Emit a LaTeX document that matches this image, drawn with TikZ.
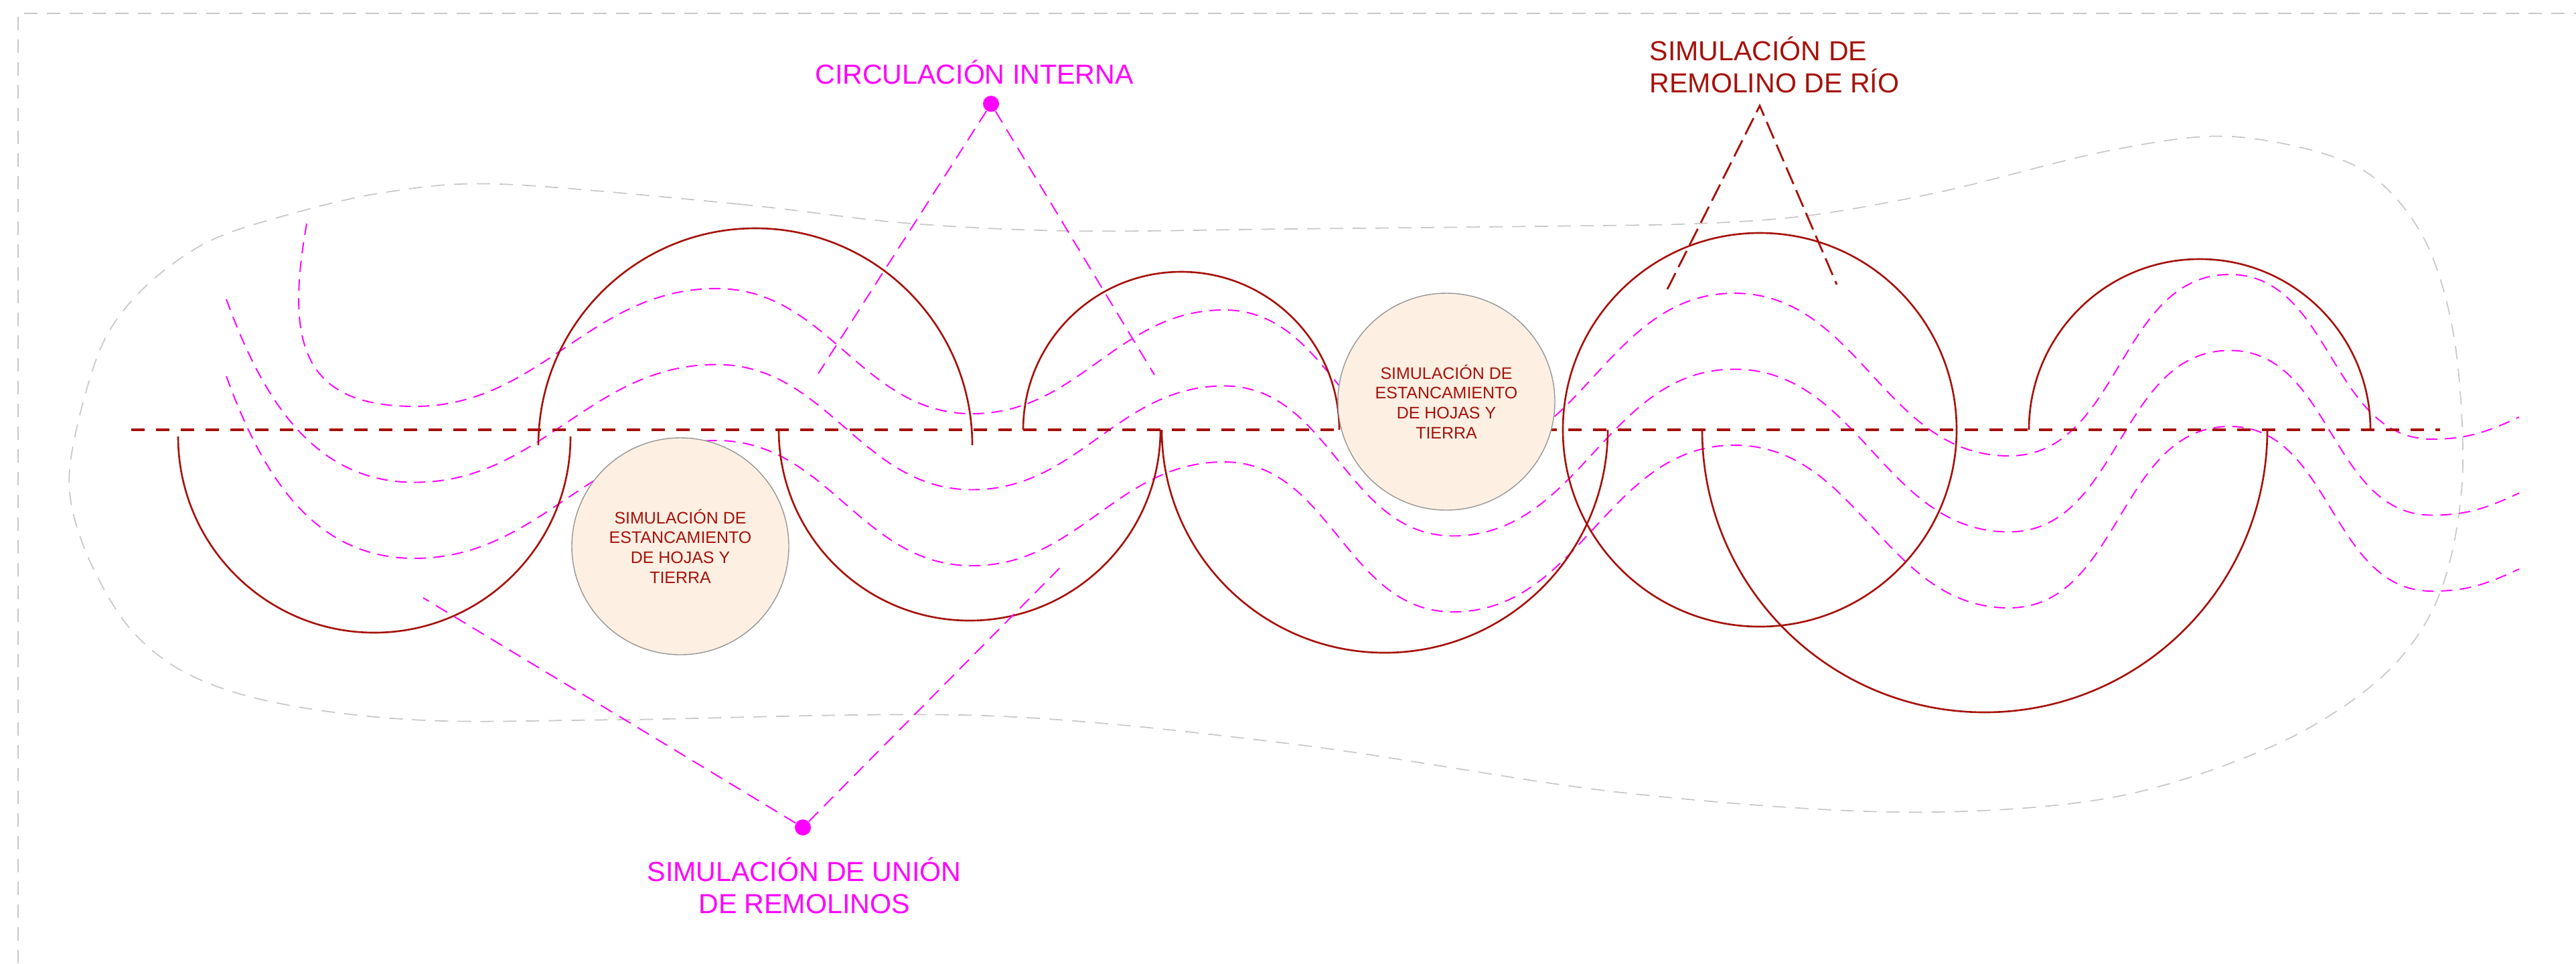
\documentclass[tikz,border=0pt]{standalone}
\usepackage{fontspec}
\setmainfont{Liberation Sans}
\usetikzlibrary{positioning}

\definecolor{riored}{RGB}{166,17,10}
\definecolor{flowpink}{RGB}{255,0,255}
\definecolor{stagfill}{RGB}{253,240,227}
\definecolor{stagline}{RGB}{150,150,150}
\definecolor{framegray}{RGB}{200,200,200}

\begin{document}
\begin{tikzpicture}[
    font=\fontsize{11.7}{13.5}\selectfont,
    eddy/.style={draw=riored, line width=0.75pt},
    riveraxis/.style={draw=riored, line width=1.1pt, dash pattern=on 0.2cm off 0.17cm},
    wave/.style={draw=flowpink, line width=0.55pt, dash pattern=on 0.17cm off 0.11cm},
    dotlink/.style={draw=flowpink, line width=0.55pt, dash pattern=on 0.2cm off 0.12cm},
    redlink/.style={draw=riored, line width=0.8pt, dash pattern=on 0.27cm off 0.1cm},
    blobline/.style={draw=framegray, line width=0.5pt, dash pattern=on 0.2cm off 0.14cm},
    stagn/.style={circle, draw=stagline, line width=0.4pt, fill=stagfill, minimum size=3.24cm, inner sep=0pt, align=center, text=riored, font=\fontsize{7.1}{8.45}\selectfont},
    pinkdot/.style={circle, fill=flowpink, minimum size=0.24cm, inner sep=0pt},
    lbl/.style={inner sep=0pt, align=center},
]
\useasboundingbox (0,0) rectangle (38.47,-14.39);

% Frame and outline
\draw[blobline] (0.27,-14.39) -- (0.27,-0.20) -- (38.47,-0.20);
\draw[blobline] plot[smooth cycle, tension=0.55] coordinates {
  (7.48,-2.75) (11.04,-3.05) (13.50,-3.33) (16.00,-3.45) (19.23,-3.42)
  (23.00,-3.38) (25.36,-3.34) (27.08,-3.21) (29.05,-2.85) (31.50,-2.25)
  (33.34,-2.04) (35.18,-2.48) (36.16,-3.49) (36.65,-5.05) (36.77,-7.20)
  (36.41,-8.93) (35.55,-10.13) (33.95,-11.14) (31.50,-11.92) (28.31,-12.13)
  (24.14,-11.83) (19.35,-11.12) (14.72,-10.69) (9.33,-10.75)
  (6.63,-10.77) (4.91,-10.63) (3.56,-10.36) (2.58,-9.94) (1.84,-9.26)
  (1.23,-8.11) (1.04,-7.00) (1.47,-5.28) (2.09,-4.36)
  (3.07,-3.63) (4.29,-3.21) (5.77,-2.87)};

% Flow lines
\foreach \dy/\sx/\sy/\ang/\lo in {0/4.58/-3.34/-100/1.4, 1.135/3.38/-4.47/-70/1, 2.27/3.38/-5.62/-70/1}
  \draw[wave] (\sx,\sy) to[out=\ang, in=180, looseness=\lo] (6.19,{-6.07-\dy})
    to[out=0, in=180] (10.70,{-4.31-\dy}) to[out=0, in=180] (14.52,{-6.18-\dy})
    to[out=0, in=180] (18.28,{-4.63-\dy}) to[out=0, in=180] (21.70,{-6.87-\dy})
    to[out=0, in=180] (25.90,{-4.38-\dy}) to[out=0, in=180] (30.00,{-6.81-\dy})
    to[out=0, in=180] (33.30,{-4.10-\dy}) to[out=0, in=180] (36.32,{-6.56-\dy})
    to[out=0, in=205] (37.62,{-6.23-\dy});

% River axis
\draw[riveraxis] (1.96,-6.42) -- (36.44,-6.42);

% Eddies
\draw[eddy] (2.66,-6.52) arc[start angle=180, end angle=360, radius=2.93];
\draw[eddy] (8.04,-6.65) arc[start angle=180, end angle=0, radius=3.24];
\draw[eddy] (11.63,-6.42) arc[start angle=180, end angle=360, radius=2.85];
\draw[eddy] (15.28,-6.42) arc[start angle=180, end angle=0, radius=2.36];
\draw[eddy] (17.35,-6.42) arc[start angle=180, end angle=360, radius=3.33];
\draw[eddy] (26.28,-6.42) circle[radius=2.94];
\draw[eddy] (25.42,-6.42) arc[start angle=180, end angle=360, radius=4.22];
\draw[eddy] (30.30,-6.42) arc[start angle=180, end angle=0, radius=2.55];

% Stagnation zones
\node[stagn] (estA) at (10.16,-8.16) {SIMULACIÓN DE\\ESTANCAMIENTO\\DE HOJAS Y\\TIERRA};
\node[stagn] (estB) at (21.60,-6.00) {SIMULACIÓN DE\\ESTANCAMIENTO\\DE HOJAS Y\\TIERRA};

% Internal circulation
\node[lbl, text=flowpink, anchor=base] (ciLabel) at (14.55,-1.25) {CIRCULACIÓN INTERNA};
\node[pinkdot] (ciDot) at (14.80,-1.55) {};
\coordinate (ciL) at (12.22,-5.58);
\coordinate (ciR) at (17.24,-5.60);
\draw[dotlink] (ciDot) -- (ciL);
\draw[dotlink] (ciDot) -- (ciR);

% Eddy union
\node[pinkdot] (unDot) at (11.99,-12.36) {};
\coordinate (unL) at (6.32,-8.93);
\coordinate (unR) at (15.83,-8.48);
\draw[dotlink] (unDot) -- (unL);
\draw[dotlink] (unDot) -- (unR);
\node[lbl, text=flowpink, anchor=base] (unLabel) at (12.01,-13.64) {SIMULACIÓN DE UNIÓN\\DE REMOLINOS};

% River eddy
\node[lbl, text=riored, align=left, anchor=base west] (remLabel) at (24.63,-1.38) {SIMULACIÓN DE\\REMOLINO DE RÍO};
\coordinate (remTop) at (26.28,-1.58);
\coordinate (remL) at (24.90,-4.32);
\coordinate (remR) at (27.43,-4.25);
\draw[redlink] (remL) -- (remTop) -- (remR);

\end{tikzpicture}
\end{document}
